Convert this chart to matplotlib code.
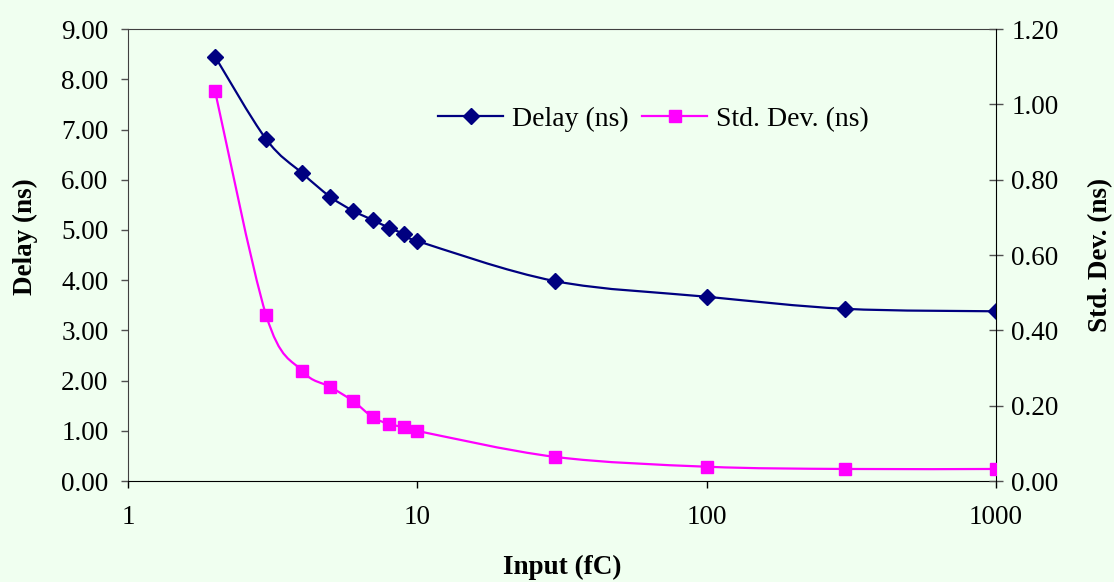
import numpy as np
import matplotlib
matplotlib.use("Agg")
import matplotlib.pyplot as plt
from matplotlib.path import Path
from matplotlib.patches import PathPatch
from matplotlib.lines import Line2D
from matplotlib.ticker import FormatStrFormatter, FixedLocator, NullLocator

# input charge (fC) and measured timing
charge = [2, 3, 4, 5, 6, 7, 8, 9, 10, 30, 100, 300, 1000]
delay = [8.45, 6.81, 6.13, 5.66, 5.38, 5.20, 5.04, 4.92, 4.78, 3.98, 3.67, 3.43, 3.38]
stddev = [1.035, 0.441, 0.292, 0.250, 0.212, 0.170, 0.151, 0.143, 0.133, 0.064, 0.038, 0.032, 0.032]

delay_ticks = np.arange(0, 9.01, 1.0)
std_ticks = np.arange(0, 1.201, 0.2)
x_ticks = [1, 10, 100, 1000]

bg = "#f0fff0"
navy = "#000080"
magenta = "#ff00ff"

plt.rcParams["font.family"] = ["Liberation Serif", "DejaVu Serif"]
plt.rcParams["font.size"] = 19.5


def smooth_path(xs, ys):
    # bezier through the points, built in log-x space like a spreadsheet "smoothed line"
    u = np.log10(np.asarray(xs, float))
    v = np.asarray(ys, float)
    n = len(u)
    verts = [(xs[0], ys[0])]
    codes = [Path.MOVETO]
    for i in range(n - 1):
        p0 = np.array([u[max(i - 1, 0)], v[max(i - 1, 0)]])
        p1 = np.array([u[i], v[i]])
        p2 = np.array([u[i + 1], v[i + 1]])
        p3 = np.array([u[min(i + 2, n - 1)], v[min(i + 2, n - 1)]])
        c1 = p1 + (p2 - p0) / 6.0
        c2 = p2 - (p3 - p1) / 6.0
        for c in (c1, c2, p2):
            verts.append((10 ** c[0], c[1]))
            codes.append(Path.CURVE4)
    return Path(verts, codes)


fig = plt.figure(figsize=(11.14, 5.82), dpi=100, facecolor=bg)
ax = fig.add_axes([0.1149, 0.1735, 0.7792, 0.7765])
ax.set_facecolor(bg)
ax2 = ax.twinx()

ax.set_xscale("log")
ax.set_xlim(1, 1000)
ax.set_ylim(0, 9)
ax2.set_ylim(0, 1.2)

ax.add_patch(PathPatch(smooth_path(charge, delay), facecolor="none",
                       edgecolor=navy, lw=1.6, zorder=3))
ax.plot(charge, delay, ls="none", marker="D", ms=8.2, color=navy, zorder=4)

ax2.add_patch(PathPatch(smooth_path(charge, stddev), facecolor="none",
                        edgecolor=magenta, lw=1.6, zorder=3))
ax2.plot(charge, stddev, ls="none", marker="s", ms=8.5, color=magenta, zorder=4)

ax.xaxis.set_major_locator(FixedLocator(x_ticks))
ax.xaxis.set_minor_locator(NullLocator())
ax.set_xticklabels([str(t) for t in x_ticks])
ax.set_yticks(delay_ticks)
ax.yaxis.set_major_formatter(FormatStrFormatter("%.2f"))
ax2.set_yticks(std_ticks)
ax2.yaxis.set_major_formatter(FormatStrFormatter("%.2f"))

ax.tick_params(axis="x", direction="out", length=5, width=1, pad=12, colors="black")
ax.tick_params(axis="y", direction="out", length=5, width=1, pad=9, color="#505050")
ax2.tick_params(axis="y", direction="inout", length=10, width=1, pad=6, color="#505050")

for s in ("left", "top"):
    ax.spines[s].set_color("#404040")
    ax2.spines[s].set_visible(False)
ax.spines["bottom"].set_color("black")
ax2.spines["bottom"].set_visible(False)
ax2.spines["right"].set_color("black")
ax.spines["right"].set_visible(False)

ax.set_xlabel("Input (fC)", fontweight="bold", fontsize=19.5)
ax.xaxis.set_label_coords(0.5, -0.163)
ax.set_ylabel("Delay (ns)", fontweight="bold", fontsize=19.5)
ax.yaxis.set_label_coords(-0.1037, 0.54)
ax2.set_ylabel("Std. Dev. (ns)", fontweight="bold", fontsize=19.5, rotation=90)
ax2.yaxis.set_label_coords(1.106, 0.5)

handles = [
    Line2D([], [], color=navy, lw=1.6, marker="D", ms=8.2),
    Line2D([], [], color=magenta, lw=1.6, marker="s", ms=8.5),
]
ax2.legend(handles, ["Delay (ns)", "Std. Dev. (ns)"], ncol=2, frameon=False,
           loc="center", bbox_to_anchor=(0.605, 0.801), handlelength=2.35,
           handletextpad=0.3, columnspacing=0.5, fontsize=20)

fig.savefig("out.png", dpi=100, facecolor=bg)
